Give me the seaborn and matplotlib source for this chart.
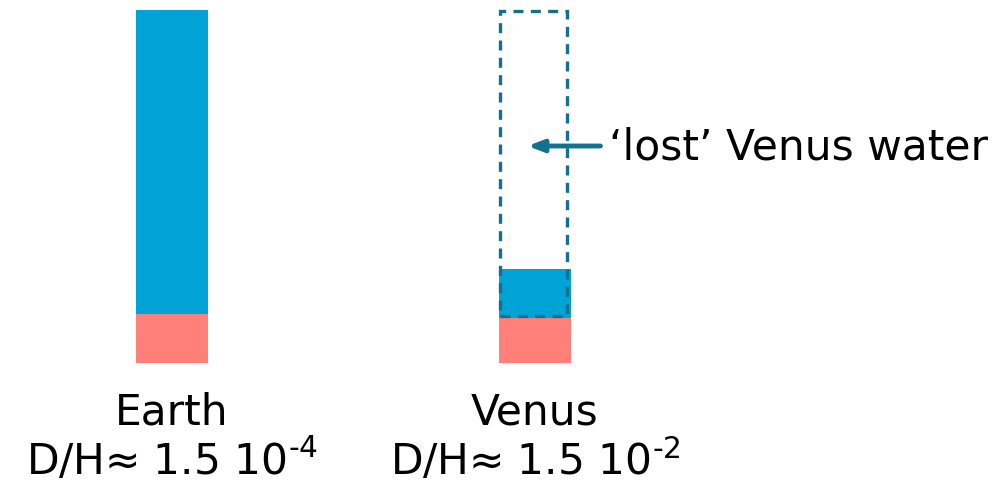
import matplotlib
matplotlib.use("Agg")
import matplotlib.pyplot as plt
import seaborn as sns

# data (heights in arbitrary units)
planets = ["Earth", "Venus"]
dh_labels = ["D/H\u2248 1.5 10$^{\\text{-4}}$", "D/H\u2248 1.5 10$^{\\text{-2}}$"]
deuterium_part = [49, 45]   # salmon base
water_part = [304, 49]      # blue on top
lost_bottom = 47            # dashed "lost" water outline on Venus
lost_top = 352

blue = "#00a3d6"
salmon = "#ff7f79"
teal = "#14708f"

sns.set_style("white")
plt.rcParams["font.family"] = ["DejaVu Sans"]
plt.rcParams["mathtext.default"] = "regular"
plt.rcParams["text.color"] = "black"

fig = plt.figure(figsize=(10.08, 4.85), dpi=100)
ax = fig.add_axes([0, 0, 1, 1])

sns.barplot(x=planets, y=deuterium_part, color=salmon, width=0.198,
            saturation=1, linewidth=0, ax=ax)
sns.barplot(x=planets, y=water_part, bottom=deuterium_part, color=blue,
            width=0.198, saturation=1, linewidth=0, ax=ax)

# outline of the water Venus has lost
ax.bar(0.996, lost_top - lost_bottom, bottom=lost_bottom, width=0.185,
       fill=False, edgecolor=teal, linestyle=(0, (3, 2.2)), linewidth=2.4,
       zorder=5)

ax.annotate("", xy=(0.98, 217), xytext=(1.18, 217),
            arrowprops=dict(arrowstyle="-|>,head_length=0.9,head_width=0.35",
                            color=teal, lw=3.5, shrinkA=0, shrinkB=0))
ax.text(1.205, 217, "\u2018lost\u2019 Venus water", fontsize=30.5,
        va="center", ha="left", color="black")

for i, (name, dh) in enumerate(zip(planets, dh_labels)):
    ax.text(i, -49, name, fontsize=30.5, ha="center", va="center", color="black")
    ax.text(i, -97, dh, fontsize=30.5, ha="center", va="center", color="black")

ax.set_xlim(-0.474, 2.303)
ax.set_ylim(-121, 364)
ax.axis("off")

fig.savefig("out.png", dpi=100)
